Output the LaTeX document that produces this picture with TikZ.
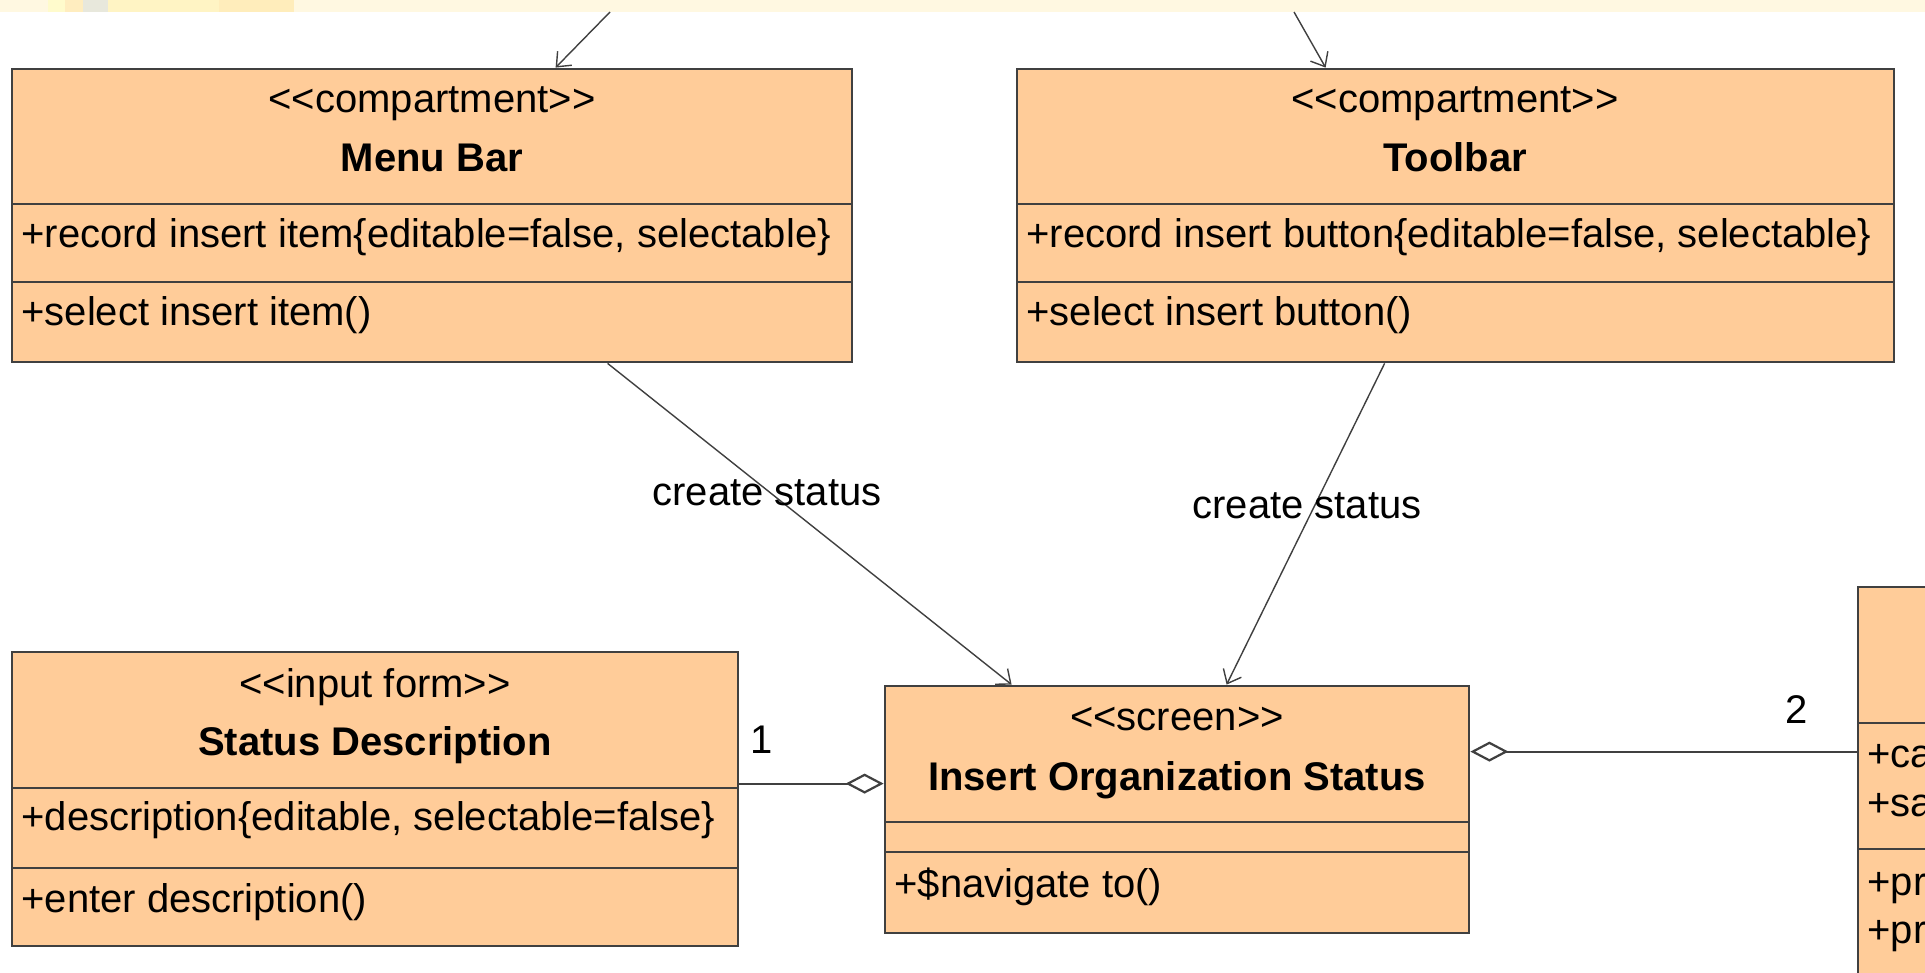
\documentclass[tikz,border=0pt]{standalone}
\usepackage{fontspec}
\setmainfont{Liberation Sans}[Ligatures=TeXOff]
\usetikzlibrary{arrows.meta,fit}
\definecolor{boxfill}{HTML}{FFCC99}
\definecolor{edge}{HTML}{404040}
\definecolor{bandA}{HTML}{FFF8E1}
\definecolor{bandB}{HTML}{FFFBCC}
\definecolor{bandC}{HTML}{FFEDBF}
\definecolor{bandD}{HTML}{E8E8DC}
\definecolor{bandE}{HTML}{FFF4C4}
\definecolor{bandF}{HTML}{FFEDBB}
\begin{document}
\begin{tikzpicture}[x=0.5pt,y=-0.5pt,
  classbox/.style={draw=edge, line width=1.4pt, fill=boxfill, inner sep=0pt},
  divider/.style={draw=edge, line width=1.4pt},
  txt/.style={inner sep=0pt, font=\fontsize{20}{24}\selectfont, text=black},
  lefttxt/.style={txt, anchor=base west},
  ctxt/.style={txt, anchor=base},
  titletxt/.style={txt, anchor=base, font=\fontsize{20}{24}\selectfont\bfseries},
  dep/.style={draw=edge, line width=0.7pt, -{Straight Barb[length=6pt,width=10pt]}},
  agg/.style={draw=edge, line width=1.1pt, -{Diamond[open,length=19pt,width=10pt]}},
]
\useasboundingbox (0,0) rectangle (1925,973);
\clip (0,0) rectangle (1925,973);
\fill[white] (0,0) rectangle (1925,973);
% top band
\fill[bandA] (0,0) rectangle (1925,12);
\fill[bandB] (48,0) rectangle (65,12);
\fill[bandC] (65,0) rectangle (83,12);
\fill[bandD] (83,0) rectangle (108,12);
\fill[bandE] (108,0) rectangle (219,12);
\fill[bandF] (219,0) rectangle (294,12);

% Menu Bar
\node[classbox, fit={(12,69) (852,362)}] (mb) {};
\draw[divider] (12,204) -- (852,204);
\draw[divider] (12,282) -- (852,282);
\node[ctxt] (mbst) at (432,113) {<<compartment>>};
\node[titletxt] (mbti) at (432,172) {Menu Bar};
\node[lefttxt] (mbat) at (21,248) {+record insert item\{editable=false, selectable\}};
\node[lefttxt] (mbop) at (21,325) {+select insert item()};

% Toolbar
\node[classbox, fit={(1017,69) (1894,362)}] (tb) {};
\draw[divider] (1017,204) -- (1894,204);
\draw[divider] (1017,282) -- (1894,282);
\node[ctxt] (tbst) at (1455,113) {<<compartment>>};
\node[titletxt] (tbti) at (1455,172) {Toolbar};
\node[lefttxt] (tbat) at (1026,248) {+record insert button\{editable=false, selectable\}};
\node[lefttxt] (tbop) at (1026,325) {+select insert button()};

% Status Description
\node[classbox, fit={(12,652) (738,946)}] (sd) {};
\draw[divider] (12,788) -- (738,788);
\draw[divider] (12,868) -- (738,868);
\node[ctxt] (sdst) at (375,697) {<<input form>>};
\node[titletxt] (sdti) at (375,755) {Status Description};
\node[lefttxt] (sdat) at (21,830) {+description\{editable, selectable=false\}};
\node[lefttxt] (sdop) at (21,912) {+enter description()};

% Insert Organization Status
\node[classbox, fit={(885,686) (1469,933)}] (ins) {};
\draw[divider] (885,822) -- (1469,822);
\draw[divider] (885,852) -- (1469,852);
\node[ctxt] (insst) at (1177,730) {<<screen>>};
\node[titletxt] (insti) at (1177,790) {Insert Organization Status};
\node[lefttxt] (insop) at (894,897) {+\$navigate to()};

% right box (cut off by the picture's edge)
\node[classbox, fit={(1858,587) (2000,1010)}] (rb) {};
\draw[divider] (1858,723) -- (2000,723);
\draw[divider] (1858,849) -- (2000,849);
\node[lefttxt] (rb1) at (1867,767) {+ca};
\node[lefttxt] (rb2) at (1867,816) {+sa};
\node[lefttxt] (rb3) at (1867,895) {+pr};
\node[lefttxt] (rb4) at (1867,943) {+pr};

% connectors
\coordinate (topA) at (610,12);
\coordinate (topB) at (1294,12);
\draw[dep] (topA) -- ([xshift=272.5pt]mb.north west);
\draw[dep] (topB) -- ([xshift=155pt]tb.north west);
\draw[dep] ([xshift=298.5pt]mb.south west) -- ([xshift=64pt]ins.north west);
\draw[dep] ([xshift=184.5pt]tb.south west) -- ([xshift=171.5pt]ins.north west);
\draw[agg] ([yshift=-66.5pt]sd.north east) -- ([yshift=-49.5pt]ins.north west);
\draw[agg] ([yshift=-83pt]rb.north west) -- ([yshift=-33.5pt]ins.north east);

% labels
\node[ctxt] (lab1) at (767,505) {create status};
\node[ctxt] (lab2) at (1307,518) {create status};
\node[ctxt] (m1) at (762,753) {1};
\node[ctxt] (m2) at (1797,723) {2};
\end{tikzpicture}
\end{document}
